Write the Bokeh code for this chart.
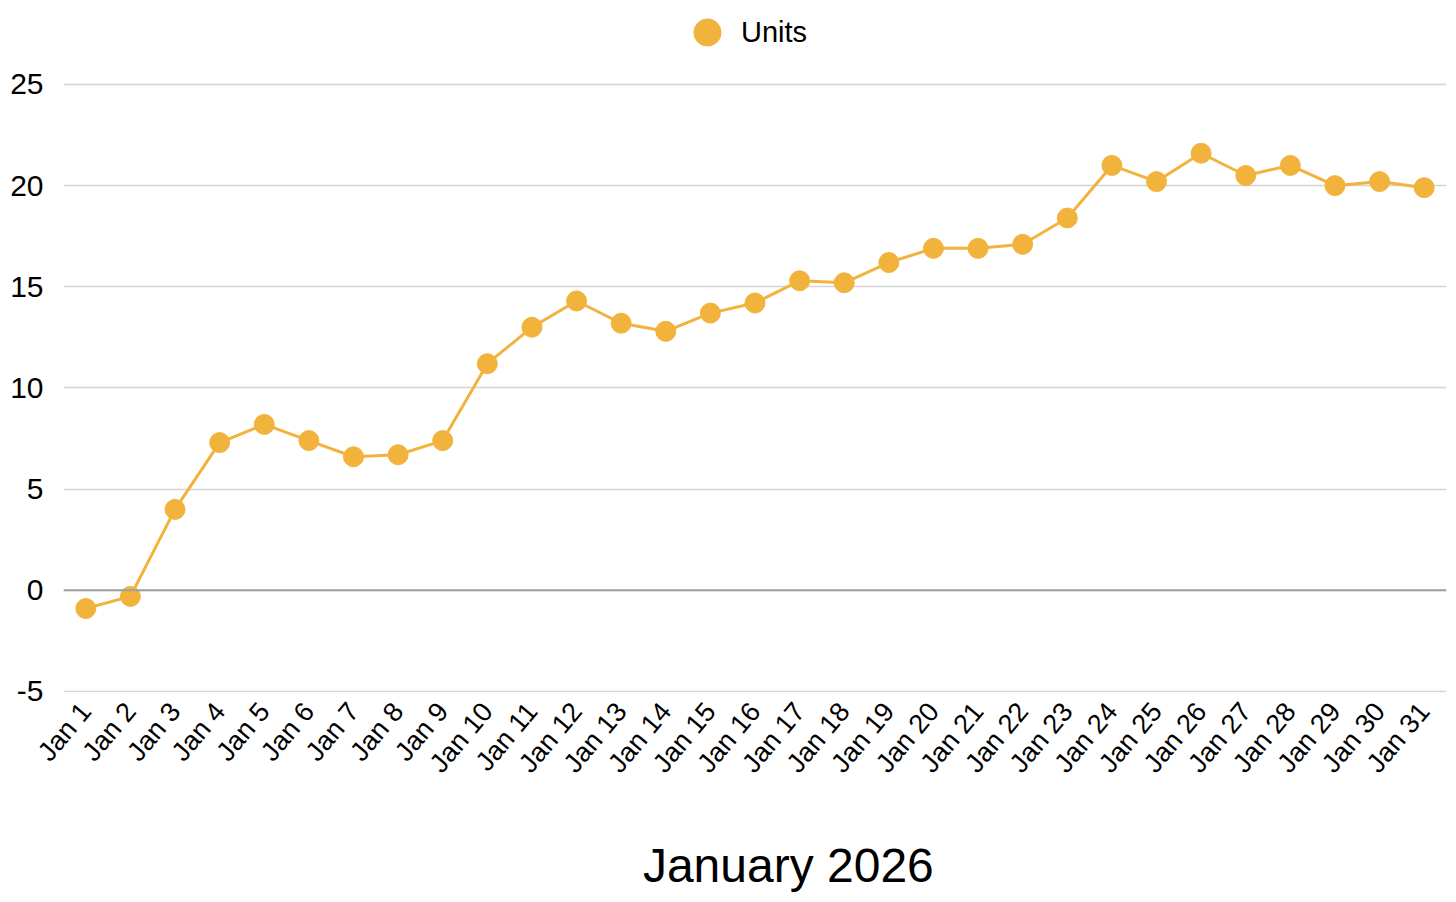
import math
from bokeh.plotting import figure
from bokeh.models import (ColumnDataSource, FixedTicker, Span, Legend, LegendItem,
                          PrintfTickFormatter)
from bokeh.embed import file_html
from bokeh.resources import INLINE

# ---- data ----
days = [f"Jan {d}" for d in range(1, 32)]
units = [-0.9, -0.3, 4.0, 7.3, 8.2, 7.4, 6.6, 6.7, 7.4, 11.2,
         13.0, 14.3, 13.2, 12.8, 13.7, 14.2, 15.3, 15.2, 16.2, 16.9,
         16.9, 17.1, 18.4, 21.0, 20.2, 21.6, 20.5, 21.0, 20.0, 20.2, 19.9]
y_ticks = [-5, 0, 5, 10, 15, 20, 25]
series_name = "Units"
x_title = "January 2026"

COLOR = "#F2B33D"
FONT = "Liberation Sans"

src = ColumnDataSource(dict(day=days, units=units))

# frame spans the whole top of the page so the legend (drawn inside) is not clipped
p = figure(x_range=days, y_range=(-5.05, 29.15), width=1450, height=902,
           output_backend="svg", toolbar_location=None,
           min_border_left=63, min_border_right=4, min_border_top=0, min_border_bottom=210)
p.outline_line_color = None
p.background_fill_color = "white"
p.border_fill_color = "white"

line = p.line("day", "units", source=src, line_color=COLOR, line_width=3)
pts = p.scatter("day", "units", source=src, size=20, fill_color=COLOR, line_color=COLOR)

# grid
p.xgrid.grid_line_color = None
p.ygrid.ticker = FixedTicker(ticks=y_ticks)
p.ygrid.grid_line_color = "#d4d4d4"
p.ygrid.grid_line_width = 1.5
p.add_layout(Span(location=0, dimension="width", line_color="#a0a0a0", line_width=2))

# y axis
p.yaxis.ticker = FixedTicker(ticks=y_ticks)
p.yaxis.formatter = PrintfTickFormatter(format="%d")
p.yaxis.axis_line_color = None
p.yaxis.major_tick_line_color = None
p.yaxis.minor_tick_line_color = None
p.yaxis.major_tick_out = 0
p.yaxis.major_tick_in = 0
p.yaxis.major_label_standoff = 20
p.yaxis.major_label_text_font = FONT
p.yaxis.major_label_text_font_size = "30px"
p.yaxis.major_label_text_color = "#000000"

# x axis
p.xaxis.axis_line_color = None
p.xaxis.major_tick_line_color = None
p.xaxis.major_tick_out = 0
p.xaxis.major_tick_in = 0
p.xaxis.major_label_orientation = math.radians(50)
p.xaxis.major_label_standoff = 14
p.xaxis.major_label_text_font = FONT
p.xaxis.major_label_text_font_size = "27px"
p.xaxis.major_label_text_color = "#000000"
# leading no-break spaces nudge the centred title slightly right, as in the original
p.xaxis.axis_label = "\u00a0" * 5 + x_title
p.xaxis.axis_label_standoff = 48
p.xaxis.axis_label_text_font = FONT
p.xaxis.axis_label_text_font_size = "48px"
p.xaxis.axis_label_text_font_style = "normal"
p.xaxis.axis_label_text_color = "#000000"

# legend (top, centered)
legend = Legend(items=[LegendItem(label=series_name, renderers=[pts])],
                location=(610, 626), orientation="horizontal",
                glyph_width=68, glyph_height=68, label_standoff=0,
                padding=0, margin=0, spacing=0,
                border_line_color=None, background_fill_alpha=0,
                label_text_font=FONT, label_text_font_size="29px",
                label_text_color="#000000")
p.add_layout(legend, "center")

open("out.html", "w").write(file_html(p, INLINE))
